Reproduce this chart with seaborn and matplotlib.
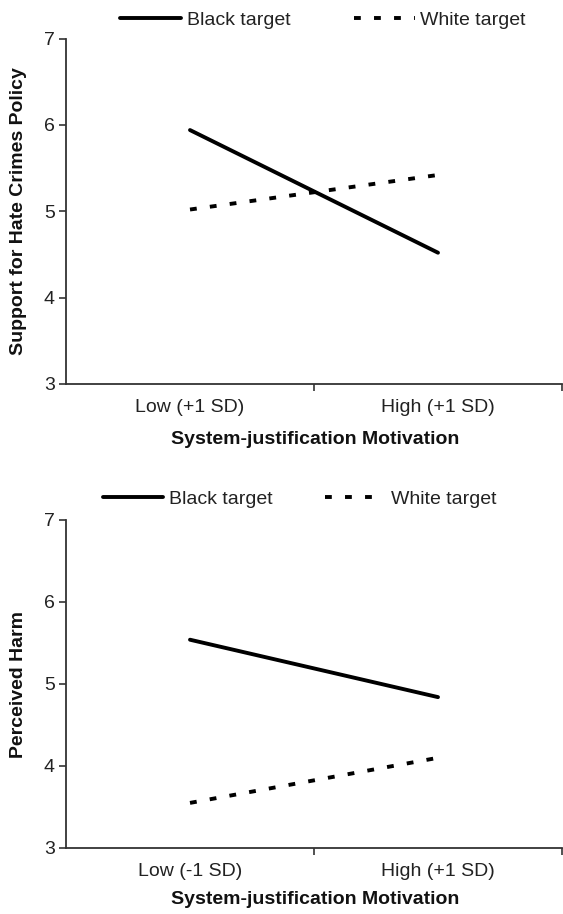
import seaborn as sns
import pandas as pd
import numpy as np
import matplotlib.pyplot as plt

targets = ["Black target", "White target"]

levels_top = ["Low (+1 SD)", "High (+1 SD)"]
black_top = [5.94, 4.52]
white_top = [5.02, 5.42]

levels_bot = ["Low (-1 SD)", "High (+1 SD)"]
black_bot = [5.54, 4.84]
white_bot = [3.55, 4.10]

yticks = [3, 4, 5, 6, 7]
xlab = "System-justification Motivation"
ylab_top = "Support for Hate Crimes Policy"
ylab_bot = "Perceived Harm"

sns.set_theme(style="white")
plt.rcParams['font.family'] = ['Liberation Sans', 'DejaVu Sans']


def make_df(levels, black, white):
    rows = []
    for lv, b, w in zip(levels, black, white):
        rows.append({"level": lv, "target": targets[0], "value": b})
        rows.append({"level": lv, "target": targets[1], "value": w})
    return pd.DataFrame(rows)


fig = plt.figure(figsize=(5.63, 9.14), dpi=100)
ax1 = fig.add_axes([66/563, 1-384/914, 496/563, 345.5/914])
ax2 = fig.add_axes([66/563, 1-848/914, 496/563, 328/914])

# axes, data, y label, legend centre (figure coords), x label y (axes coords), column gap
panels = [
    (ax1, make_df(levels_top, black_top, white_top), ylab_top, (0.574, 1-20.5/914), -0.137, 3.3),
    (ax2, make_df(levels_bot, black_bot, white_bot), ylab_bot, (0.532, 1-499/914), -0.132, 2.7),
]

for ax, df, ylab, legpos, xly, colsp in panels:
    sns.lineplot(data=df, x="level", y="value", style="target",
                 dashes={targets[0]: "", targets[1]: (1.75, 3.4)},
                 color="black", linewidth=2.8, ax=ax, sort=False)
    ax.set_xlim(-0.5, 1.5)
    ax.set_ylim(3, 7)
    ax.set_yticks(yticks)
    ax.set_xticks([0, 1])
    ax.set_xticks([0.5, 1.5], minor=True)
    sns.despine(ax=ax)
    for s in ["left", "bottom"]:
        ax.spines[s].set_color("#333333")
        ax.spines[s].set_linewidth(1.3)
    ax.tick_params(axis="x", which="major", length=0, pad=11, labelsize=14, colors="#222222")
    ax.tick_params(axis="x", which="minor", bottom=True, length=5, width=1.2, color="#333333")
    ax.tick_params(axis="y", left=True, length=5, width=1.2, pad=3, labelsize=14,
                   color="#333333", labelcolor="#222222")
    ax.set_xlabel(xlab, fontsize=14, fontweight="bold", color="#111111")
    ax.set_ylabel(ylab, fontsize=14, fontweight="bold", color="#111111")
    ax.xaxis.set_label_coords(0.502, xly)
    ax.yaxis.set_label_coords(-0.078, 0.5)
    leg = ax.legend(loc="center", bbox_to_anchor=legpos, bbox_transform=fig.transFigure,
                    ncol=2, frameon=False, fontsize=14, handlelength=3.1,
                    handletextpad=0.3, columnspacing=colsp)
    for t in leg.get_texts():
        t.set_color("#222222")

fig.savefig("out.png", dpi=100)
